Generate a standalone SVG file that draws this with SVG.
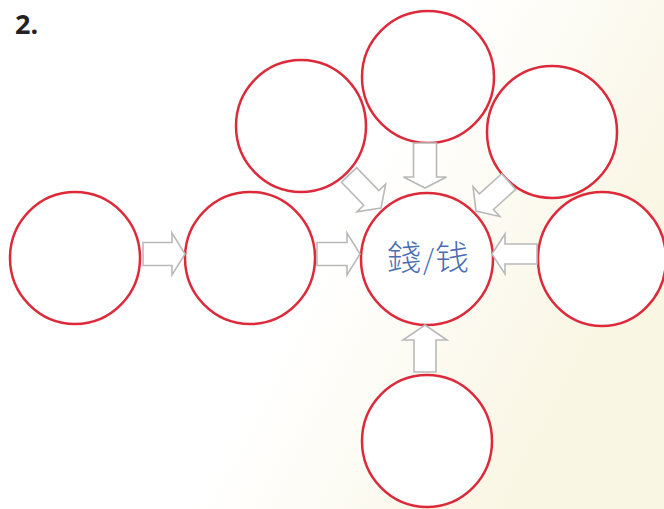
<svg xmlns="http://www.w3.org/2000/svg" width="664" height="509" viewBox="0 0 664 509">
  <defs>
    <linearGradient id="bg" x1="0" y1="0" x2="1" y2="0.4">
      <stop offset="0" stop-color="#ffffff"/>
      <stop offset="0.6" stop-color="#ffffff"/>
      <stop offset="1" stop-color="#f9f6e4"/>
    </linearGradient>
    <style>
      .node { fill: #ffffff; stroke: #dc2a3a; stroke-width: 2.5; }
      .arrow { fill: #ffffff; stroke: #b9b9b9; stroke-width: 1.6; stroke-linejoin: miter; }
      .label { font-family: "Noto Sans CJK TC", "Noto Sans CJK SC", serif; font-size: 34px; font-weight: 300; fill: #4a6db3; }
      .num { font-family: "Open Sans", "Liberation Sans", sans-serif; font-size: 27px; font-weight: bold; fill: #222222; }
    </style>
  </defs>
  <rect x="0" y="0" width="664" height="509" fill="url(#bg)"/>
  <text class="num" x="15" y="34">2.</text>

  <g id="n-left"><ellipse class="node" cx="75" cy="258" rx="65" ry="66"/></g>
  <g id="n-mid"><ellipse class="node" cx="250" cy="258" rx="65" ry="66"/></g>
  <g id="n-center">
    <ellipse class="node" cx="427" cy="259" rx="66" ry="66"/>
    <text class="label" x="428" y="270" text-anchor="middle">錢<tspan font-size="28" dx="2">/</tspan><tspan font-family="Noto Sans CJK SC, serif" dx="1">钱</tspan></text>
  </g>
  <g id="n-topleft"><ellipse class="node" cx="301" cy="126" rx="65" ry="66"/></g>
  <g id="n-top"><ellipse class="node" cx="428" cy="77" rx="66" ry="66"/></g>
  <g id="n-topright"><ellipse class="node" cx="552" cy="132" rx="65" ry="66"/></g>
  <g id="n-right"><ellipse class="node" cx="602" cy="259" rx="64" ry="67"/></g>
  <g id="n-bottom"><ellipse class="node" cx="427" cy="441" rx="65" ry="66"/></g>

  <g id="connectors">
    <path class="arrow" transform="translate(185,254)" d="M -42,-11.5 H -13 V -21 L 0,0 L -13,21 V 11.5 H -42 Z"/>
    <path class="arrow" transform="translate(360,254)" d="M -43,-11.5 H -13 V -21 L 0,0 L -13,21 V 11.5 H -43 Z"/>
    <path class="arrow" transform="translate(492,254) rotate(180)" d="M -45,-10 H -13 V -20 L 0,0 L -13,20 V 10 H -45 Z"/>
    <path class="arrow" transform="translate(425,188) rotate(90)" d="M -45,-11.5 H -11 V -21.5 L 0,0 L -11,21.5 V 11.5 H -45 Z"/>
    <path class="arrow" transform="translate(425,325) rotate(-90)" d="M -47,-11 H -15 V -22 L 0,0 L -15,22 V 11 H -47 Z"/>
    <path class="arrow" transform="translate(381,208) rotate(46)" d="M -46,-10.5 H -14 V -20 L 0,0 L -14,20 V 10.5 H -46 Z"/>
    <path class="arrow" transform="translate(476,211) rotate(138)" d="M -44,-10.5 H -14 V -20 L 0,0 L -14,20 V 10.5 H -44 Z"/>
  </g>
</svg>
